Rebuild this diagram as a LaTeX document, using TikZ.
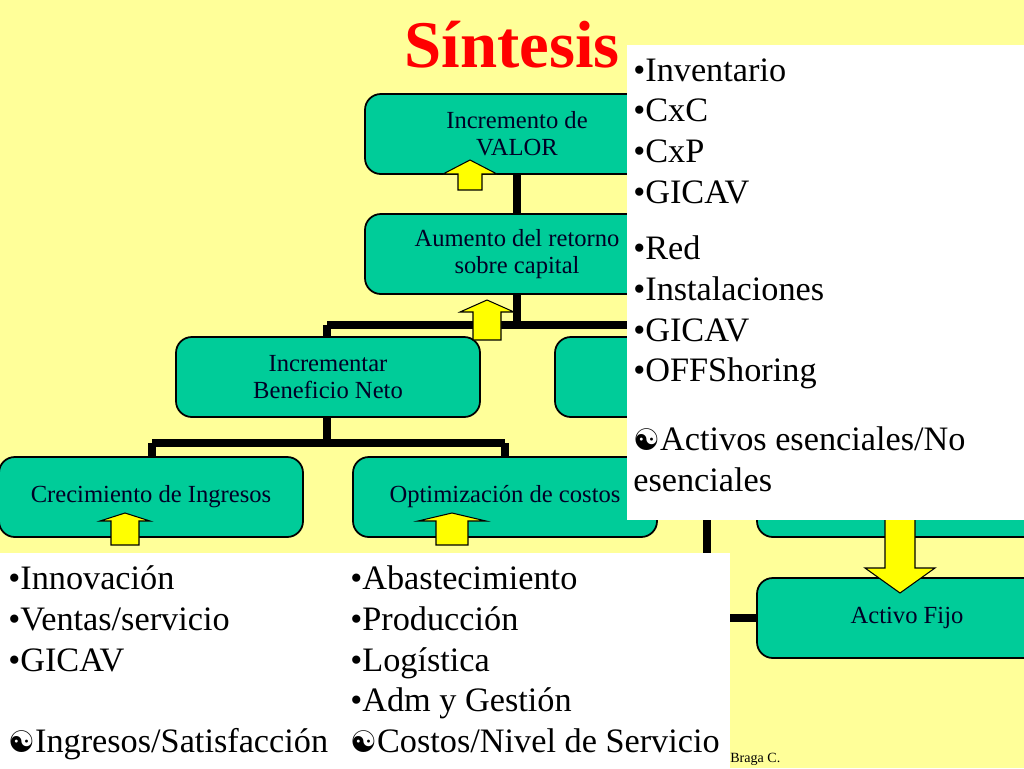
\documentclass[tikz,border=0pt]{standalone}
\usepackage{fontspec}
\setmainfont{Liberation Serif}
\newfontfamily\symf{DejaVu Sans}
\definecolor{bgy}{HTML}{FFFF99}
\definecolor{grn}{HTML}{00CC99}
\definecolor{ttl}{HTML}{FF0000}
\definecolor{arr}{HTML}{FFFF00}
\newcommand{\yy}{{\symf\fontsize{17}{19}\selectfont ☯}}
\begin{document}
\begin{tikzpicture}[x=0.02cm,y=-0.02cm,
  gbox/.style={draw=black,line width=1pt,fill=grn,rounded corners=9pt,minimum width=304*0.02cm,minimum height=80*0.02cm,align=center,font=\fontsize{14}{15.5}\selectfont,text=black!85!blue},
  conn/.style={line width=4pt,black},
  wbox/.style={fill=white,draw=none},
  btxt/.style={font=\fontsize{19.5}{23.3}\selectfont,align=left,anchor=north west,inner sep=0pt},
  arrw/.style={draw=black,fill=arr,line width=0.6pt}]
\useasboundingbox (0,0) rectangle (1024,768);
\fill[bgy] (0,0) rectangle (1024,768);
\node (title) at (512,45) {\fontsize{38}{40}\selectfont\bfseries\color{ttl}Síntesis};
\coordinate (b1) at (517,175);
\coordinate (bar1) at (517,325);
\coordinate (bar1l) at (327,325);
\coordinate (bar1r) at (707,325);
\coordinate (bar2) at (327,443);
\coordinate (bar2l) at (152,443);
\coordinate (bar2r) at (505,443);
\coordinate (rv) at (707,620);
\coordinate (rh1) at (757,497);
\coordinate (rh2) at (757,618);
\draw[conn] (b1) -- (bar1);
\draw[conn] (bar1l) -- (bar1r);
\draw[conn] (bar1l) -- (327,340);
\draw[conn] (bar1r) -- (707,340);
\draw[conn] (327,417) -- (bar2);
\draw[conn] (bar2l) -- (bar2r);
\draw[conn] (bar2l) -- (152,460);
\draw[conn] (bar2r) -- (505,460);
\draw[conn] (707,417) -- (rv);
\draw[conn] (707,497) -- (rh1);
\draw[conn] (707,618) -- (rh2);
\node[gbox] (n1) at (517,134) {Incremento de\\VALOR};
\node[gbox] (n2) at (517,254) {Aumento del retorno\\sobre capital};
\node[gbox] (n3) at (328,377) {Incrementar\\Beneficio Neto};
\node[gbox] (n4) at (707,377) {};
\node[gbox] (n5) at (151,497) {Crecimiento de Ingresos};
\node[gbox] (n6) at (505,497) {Optimización de costos};
\node[gbox,minimum width=300*0.02cm] (n7) at (907,497) {};
\node[gbox,minimum width=300*0.02cm] (n8) at (907,618) {Activo Fijo};
\foreach \cx/\ty/\by/\hw/\sw/\hh in {470/160/190/27/12/14, 487/300/340/27/14/12, 125/513/545/25/14/8, 452/513/545/34/16/8}{
  \draw[arrw] (\cx,\ty) -- (\cx+\hw,\ty+\hh) -- (\cx+\sw,\ty+\hh) -- (\cx+\sw,\by) -- (\cx-\sw,\by) -- (\cx-\sw,\ty+\hh) -- (\cx-\hw,\ty+\hh) -- cycle;}
\draw[arrw] (900,593) -- (935,568) -- (915,568) -- (915,513) -- (885,513) -- (885,568) -- (865,568) -- cycle;
\fill[wbox] (627,45) rectangle (1024,520);
\fill[wbox] (0,553) rectangle (730,768);
\node[btxt] (t1) at (633,58) {•Inventario\\•CxC\\•CxP\\•GICAV};
\node[btxt] (t2) at (633,235) {•Red\\•Instalaciones\\•GICAV\\•OFFShoring\\[16pt]\yy Activos esenciales/No\\esenciales};
\node[btxt] (t3) at (8,565) {•Innovación\\•Ventas/servicio\\•GICAV\\[23.3pt]\yy Ingresos/Satisfacción};
\node[btxt] (t4) at (350,565) {•Abastecimiento\\•Producción\\•Logística\\•Adm y Gestión\\\yy Costos/Nivel de Servicio};
\node[font=\fontsize{8}{9}\selectfont,anchor=west,inner sep=0pt] (ft) at (730,759) {Braga C.};
\end{tikzpicture}
\end{document}
